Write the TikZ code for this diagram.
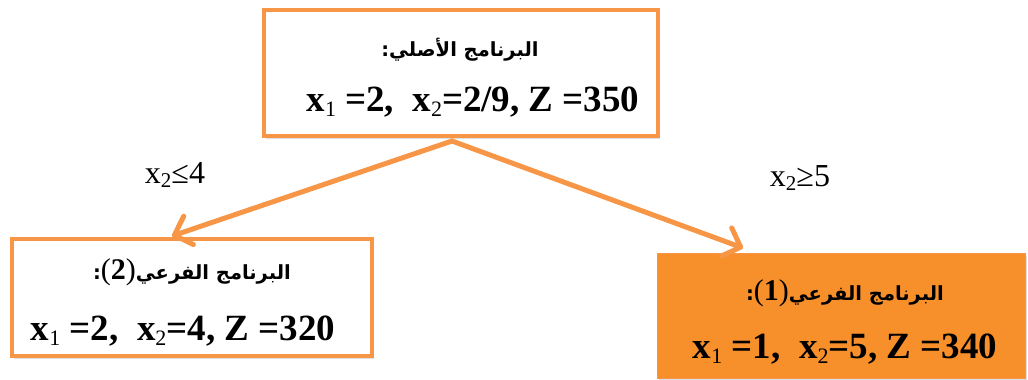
\documentclass[tikz,border=0pt]{standalone}
\usepackage{fontspec}
\setmainfont{Liberation Serif}
\newfontfamily\arabicfont[Script=Arabic]{DejaVu Sans Bold}
\TeXXeTstate=1
\usetikzlibrary{arrows.meta,shadows}
\definecolor{boxorange}{HTML}{F79646}
\definecolor{fillorange}{HTML}{F78F2B}
\newcommand\sbs[1]{\raisebox{-0.3ex}{\fontsize{22}{22}\selectfont\mdseries #1}}
\newcommand\lsbs[1]{\raisebox{-0.3ex}{\fontsize{21}{21}\selectfont #1}}
\begin{document}
\begin{tikzpicture}[x=1pt,y=-1pt,
  box/.style={draw=boxorange, line width=4.5pt, fill=white, inner sep=0pt,
    drop shadow={shadow xshift=2pt, shadow yshift=-3pt, opacity=0.25}},
  fillbox/.style={draw=boxorange, line width=1pt, fill=fillorange, inner sep=0pt,
    drop shadow={shadow xshift=2pt, shadow yshift=-3pt, opacity=0.25}},
  artext/.style={font=\arabicfont\fontsize{19.5}{24}\selectfont, inner sep=0pt},
  mathtext/.style={font=\bfseries\fontsize{37}{42}\selectfont, inner sep=0pt},
  lbl/.style={font=\fontsize{32}{36}\selectfont, inner sep=0pt},
  arrowline/.style={draw=boxorange, line width=5pt, line cap=round,
    -{Straight Barb[length=15pt,width=30pt,round]}}
]
\useasboundingbox (0,0) rectangle (1028,380);
% boxes
\node[box, minimum width=394pt, minimum height=126pt] (top) at (461,73) {};
\node[box, minimum width=360pt, minimum height=117pt] (left) at (192,297.5) {};
\node[fillbox, minimum width=368pt, minimum height=125pt] (right) at (841,315.5) {};
% texts
\node[artext] (toptitle) at (460,50) {\beginR البرنامج الأصلي:\endR};
\node[mathtext] (topvals) at (473,102) {x\sbs{1} =2,\ \ x\sbs{2}=2/9, Z =350};
\node[artext] (lefttitle) at (192,272) {\beginR البرنامج الفرعي\beginL{\rmfamily\fontsize{30}{34}\selectfont(\textbf{2})}\endL:\endR};
\node[mathtext] (leftvals) at (183,331) {x\sbs{1} =2,\ \ x\sbs{2}=4, Z =320};
\node[artext] (righttitle) at (845,293) {\beginR البرنامج الفرعي\beginL{\rmfamily\fontsize{30}{34}\selectfont(\textbf{1})}\endL:\endR};
\node[mathtext] (rightvals) at (845,349) {x\sbs{1} =1,\ \ x\sbs{2}=5, Z =340};
% labels
\node[lbl] (lblL) at (175,175) {x\lsbs{2}≤4};
\node[lbl] (lblR) at (800,178) {x\lsbs{2}≥5};
% arrows
\coordinate (s) at (452,141);
\coordinate (tipL) at (172,236);
\coordinate (tipR) at (743,248);
\draw[arrowline] (s) -- (tipL);
\draw[arrowline] (s) -- (tipR);
\end{tikzpicture}
\end{document}
